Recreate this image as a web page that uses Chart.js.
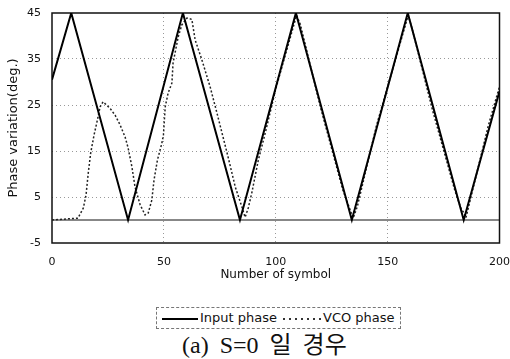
<!DOCTYPE html>
<html>
<head>
<meta charset="utf-8">
<script src="https://cdn.jsdelivr.net/npm/chart.js@4.4.0/dist/chart.umd.min.js"></script>
<style>
  html, body { margin: 0; padding: 0; background: #fff; }
  #wrap { position: relative; width: 510px; height: 359px; overflow: hidden; }
  #plot { position: absolute; left: 0; top: 0; width: 510px; height: 290px; }
  #plot canvas { display: block; }
  #legend {
    position: absolute; left: 156px; top: 307px; width: 243px; height: 20px;
    border: 1px dashed #777; font: 13px "DejaVu Sans", sans-serif; color: #111;
  }
  #legend .item { position: absolute; top: 2px; line-height: 16px; white-space: nowrap; }
  #legend .swatch { position: absolute; top: 10px; }
  #caption {
    position: absolute; left: 182px; top: 333px; white-space: nowrap; word-spacing: 5px;
    font: 24px "Liberation Serif", "Noto Sans CJK KR", serif; color: #111; line-height: 24px;
  }
</style>
</head>
<body>
<div id="wrap">
  <div id="plot"><canvas id="chart" width="510" height="290"></canvas></div>
  <div id="legend">
    <span class="swatch" style="left:5px;width:36px;height:2px;background:#000;"></span>
    <span class="item" style="left:43px;">Input phase</span>
    <span class="swatch" style="left:126px;width:38px;height:2px;background:repeating-linear-gradient(to right,#333 0 2px,transparent 2px 6px);"></span>
    <span class="item" style="left:166px;">VCO phase</span>
  </div>
  <div id="caption">(a) S=0 일 경우</div>
</div>
<script>
// chart data
const inputX = [0, 8.6, 34, 58.5, 84, 109, 134, 159, 184, 200];
const inputY = [30.5, 45, 0, 45, 0, 45, 0, 45, 0, 28];

const vcoX = [0, 11.6, 14, 15.2, 16.2, 17.3, 18.8, 20, 21.5, 22.8, 25.9, 28.2, 30.4, 32.7, 34,
  35.7, 37.1, 39.4, 41.6, 43, 44.6, 45.6, 47.1, 49.1, 49.8, 50.6, 51.9, 53.6, 54.1, 56.4, 58,
  60.3, 62.5, 64, 67, 70.7, 73.7, 78.7, 81.9, 84.9, 86.3, 87.7, 89.3, 92.2, 95.3, 100, 109.3,
  111, 120, 130, 134.6, 136.5, 145, 159.2, 161, 170, 180, 183, 184.3, 185, 186.5, 195, 200];
const vcoY = [0, 0.4, 2.6, 5.4, 10.2, 14.6, 18.5, 21.1, 24.6, 25.7, 24.3, 22.8, 20.7, 18, 15.7,
  11.6, 7.2, 3.3, 1.1, 1.5, 4.3, 8.7, 13, 16.7, 18.5, 24.6, 27.6, 29.8, 34.1, 39.8, 42.4,
  43.9, 43.6, 39.1, 34.8, 28.9, 23.3, 13.7, 7.2, 2.8, 0.6, 2.6, 5.9, 13, 18.9, 28.5, 44.5,
  42.5, 24.5, 6.5, 0.4, 3, 20.5, 44.5, 41.5, 24, 6.5, 2.2, 1.5, 0.5, 3.5, 20.5, 29];

const xTicks = [0, 50, 100, 150, 200];
const yTicks = [-5, 5, 15, 25, 35, 45];

const toPoints = (xs, ys) => xs.map((x, i) => ({ x: x, y: ys[i] }));
const clear = "rgba(0,0,0,0)";

Chart.defaults.font.family = '"DejaVu Sans", sans-serif';
Chart.defaults.color = "#111";

// full frame around the plot plus the solid zero line
const framePlugin = {
  id: "frame",
  beforeDatasetsDraw(chart) {
    const { ctx, chartArea: a, scales } = chart;
    const y0 = scales.y.getPixelForValue(0);
    ctx.save();
    ctx.strokeStyle = "#111";
    ctx.lineWidth = 1;
    ctx.beginPath();
    ctx.moveTo(a.left, y0);
    ctx.lineTo(a.right, y0);
    ctx.stroke();
    ctx.lineWidth = 1.5;
    ctx.strokeRect(a.left, a.top, a.right - a.left, a.bottom - a.top);
    ctx.restore();
  }
};

new Chart(document.getElementById("chart"), {
  type: "line",
  data: {
    datasets: [
      {
        label: "Input phase",
        data: toPoints(inputX, inputY),
        borderColor: "#000",
        borderWidth: 2,
        pointRadius: 0,
        tension: 0
      },
      {
        label: "VCO phase",
        data: toPoints(vcoX, vcoY),
        borderColor: "#222",
        borderWidth: 1.5,
        borderDash: [2, 2],
        pointRadius: 0,
        tension: 0
      }
    ]
  },
  options: {
    responsive: false,
    animation: false,
    layout: { padding: { left: 0, right: 0, top: 13, bottom: 0 } },
    plugins: { legend: { display: false }, tooltip: { enabled: false } },
    scales: {
      x: {
        type: "linear",
        min: xTicks[0],
        max: xTicks[xTicks.length - 1],
        afterBuildTicks: s => { s.ticks = xTicks.map(v => ({ value: v })); },
        afterFit: s => { s.height = 47; },
        ticks: { padding: 0, font: { size: 11 }, maxRotation: 0 },
        grid: {
          drawTicks: true,
          tickLength: 13,
          tickColor: clear,
          lineWidth: 1,
          color: c => (c.tick && (c.tick.value === 0 || c.tick.value === 200)) ? clear : "#999"
        },
        border: { display: false, dash: [1, 3] },
        title: { display: true, text: "Number of symbol", font: { size: 12 }, padding: { top: 0, bottom: 8 } }
      },
      y: {
        min: yTicks[0],
        max: yTicks[yTicks.length - 1],
        afterBuildTicks: s => { s.ticks = yTicks.map(v => ({ value: v })); },
        afterFit: s => { s.width = 52; },
        ticks: { padding: 0, font: { size: 11 } },
        grid: {
          drawTicks: true,
          tickLength: 11,
          tickColor: clear,
          lineWidth: 1,
          color: c => (c.tick && (c.tick.value === -5 || c.tick.value === 45)) ? clear : "#999"
        },
        border: { display: false, dash: [1, 3] },
        title: { display: true, text: "Phase variation(deg.)", font: { size: 13 }, padding: { top: 6, bottom: 0 } }
      }
    }
  },
  plugins: [framePlugin]
});
</script>
</body>
</html>
